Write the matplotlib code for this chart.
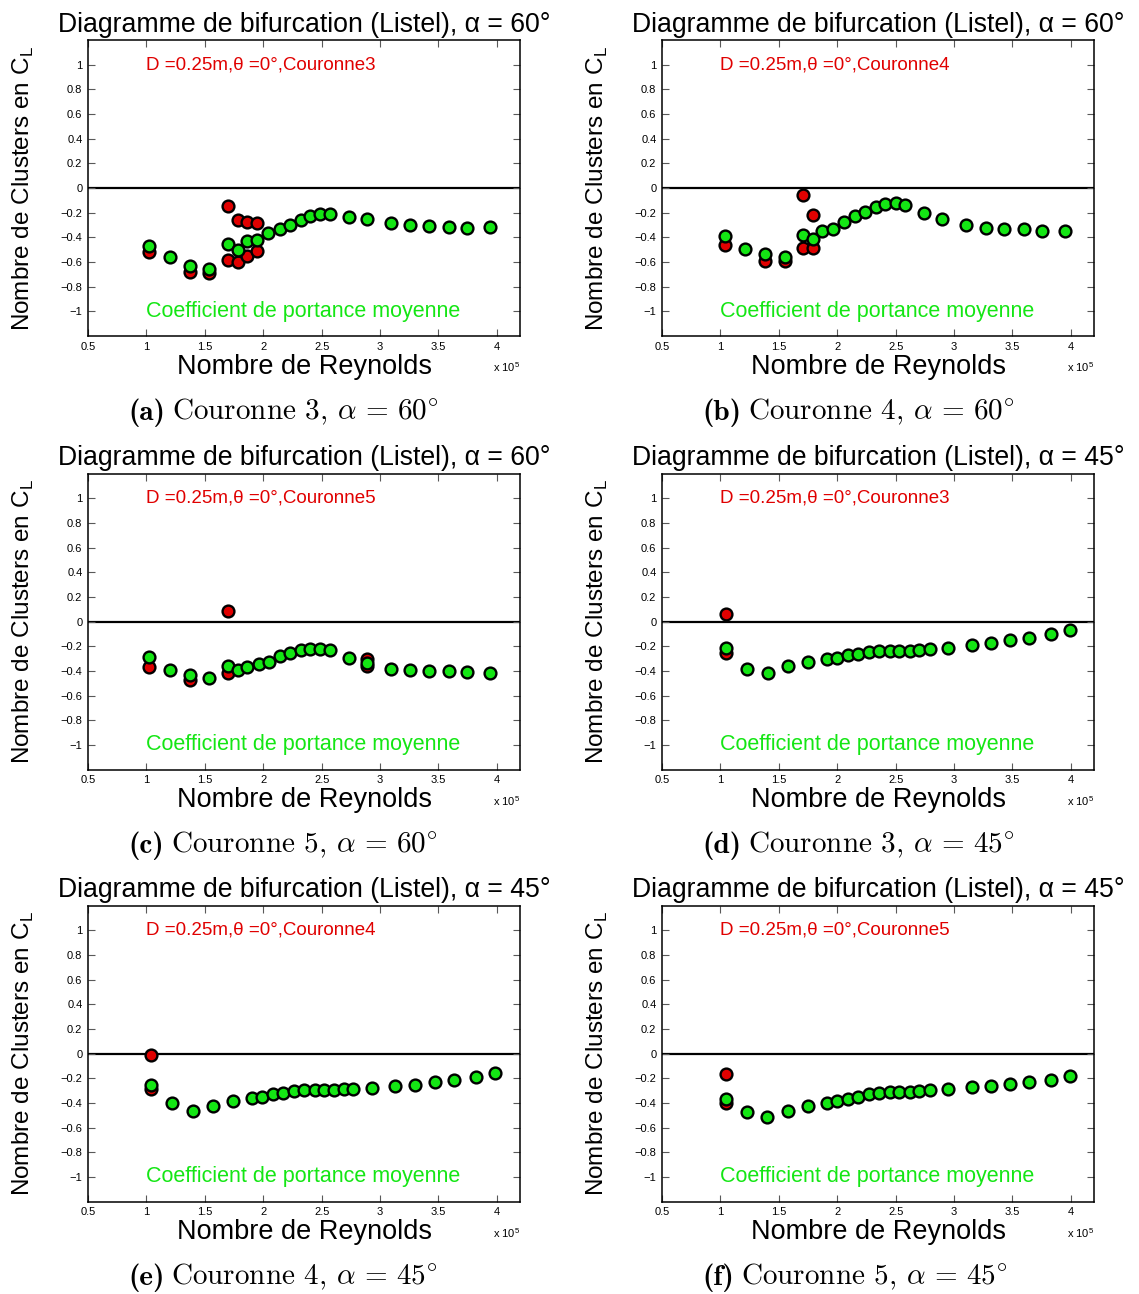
import matplotlib.pyplot as plt
from matplotlib.ticker import FuncFormatter

plt.rcParams['font.family'] = ['Liberation Sans', 'DejaVu Sans']
plt.rcParams['mathtext.fontset'] = 'cm'

# Reynolds number (x 1e5) and CL cluster values
# (a) Couronne 3, alpha = 60
re_green_a = [1.02, 1.20, 1.37, 1.54, 1.70, 1.78, 1.86, 1.95, 2.04, 2.14, 2.23, 2.32,
              2.40, 2.49, 2.57, 2.73, 2.89, 3.09, 3.26, 3.42, 3.59, 3.74, 3.94]
cl_green_a = [-0.47, -0.556, -0.63, -0.653, -0.45, -0.50, -0.433, -0.42, -0.363, -0.33, -0.296, -0.26,
              -0.225, -0.214, -0.211, -0.233, -0.252, -0.284, -0.296, -0.306, -0.312, -0.322, -0.317]
re_red_a = [1.02, 1.37, 1.54, 1.70, 1.78, 1.86, 1.95, 1.70, 1.78, 1.86, 1.95]
cl_red_a = [-0.52, -0.68, -0.69, -0.144, -0.255, -0.279, -0.285, -0.585, -0.60, -0.553, -0.512]

# (b) Couronne 4, alpha = 60
re_green_b = [1.04, 1.21, 1.38, 1.55, 1.71, 1.79, 1.87, 1.96, 2.06, 2.15, 2.24, 2.33,
              2.41, 2.50, 2.58, 2.74, 2.90, 3.10, 3.27, 3.43, 3.60, 3.75, 3.95]
cl_green_b = [-0.385, -0.496, -0.534, -0.556, -0.38, -0.412, -0.352, -0.333, -0.279, -0.228, -0.193, -0.152,
              -0.128, -0.125, -0.138, -0.206, -0.252, -0.30, -0.32, -0.33, -0.333, -0.344, -0.344]
re_red_b = [1.04, 1.38, 1.55, 1.71, 1.79, 1.71, 1.79]
cl_red_b = [-0.458, -0.588, -0.591, -0.054, -0.217, -0.485, -0.488]

# (c) Couronne 5, alpha = 60
re_green_c = [1.02, 1.20, 1.37, 1.54, 1.70, 1.78, 1.86, 1.96, 2.05, 2.14, 2.23, 2.32,
              2.40, 2.49, 2.57, 2.73, 2.89, 3.09, 3.26, 3.42, 3.59, 3.74, 3.94]
cl_green_c = [-0.287, -0.392, -0.432, -0.457, -0.362, -0.392, -0.37, -0.346, -0.324, -0.28, -0.255, -0.228,
              -0.22, -0.219, -0.228, -0.293, -0.335, -0.382, -0.39, -0.40, -0.40, -0.41, -0.42]
re_red_c = [1.02, 1.37, 1.70, 1.70, 2.89, 2.89]
cl_red_c = [-0.365, -0.475, 0.089, -0.42, -0.30, -0.36]

# (d) Couronne 3, alpha = 45
re_green_d = [1.05, 1.23, 1.41, 1.58, 1.75, 1.91, 2.00, 2.09, 2.18, 2.27, 2.36, 2.45,
              2.53, 2.62, 2.70, 2.79, 2.95, 3.15, 3.32, 3.48, 3.64, 3.83, 3.99]
cl_green_d = [-0.211, -0.384, -0.414, -0.362, -0.324, -0.302, -0.293, -0.272, -0.259, -0.243, -0.238, -0.238,
              -0.238, -0.235, -0.23, -0.224, -0.213, -0.192, -0.173, -0.152, -0.13, -0.10, -0.071]
re_red_d = [1.05, 1.05]
cl_red_d = [0.062, -0.255]

# (e) Couronne 4, alpha = 45
re_green_e = [1.04, 1.22, 1.40, 1.57, 1.74, 1.90, 1.99, 2.08, 2.17, 2.26, 2.35, 2.44,
              2.52, 2.61, 2.69, 2.77, 2.93, 3.13, 3.30, 3.47, 3.63, 3.82, 3.98]
cl_green_e = [-0.254, -0.40, -0.466, -0.423, -0.382, -0.357, -0.349, -0.327, -0.316, -0.30, -0.297, -0.293,
              -0.297, -0.293, -0.29, -0.288, -0.282, -0.263, -0.252, -0.23, -0.217, -0.188, -0.16]
re_red_e = [1.04, 1.04]
cl_red_e = [-0.013, -0.29]

# (f) Couronne 5, alpha = 45
re_green_f = [1.05, 1.23, 1.40, 1.58, 1.75, 1.91, 2.00, 2.09, 2.18, 2.27, 2.36, 2.45,
              2.53, 2.62, 2.70, 2.79, 2.95, 3.15, 3.32, 3.48, 3.64, 3.83, 3.99]
cl_green_f = [-0.365, -0.473, -0.514, -0.466, -0.425, -0.398, -0.387, -0.365, -0.35, -0.331, -0.32, -0.314,
              -0.311, -0.309, -0.30, -0.297, -0.288, -0.272, -0.266, -0.245, -0.23, -0.21, -0.181]
re_red_f = [1.05, 1.05]
cl_red_f = [-0.166, -0.398]

titles = ['Diagramme de bifurcation (Listel), \u03b1 = 60\u00b0'] * 3 + \
         ['Diagramme de bifurcation (Listel), \u03b1 = 45\u00b0'] * 3
notes = ['D =0.25m,\u03b8 =0\u00b0,Couronne3', 'D =0.25m,\u03b8 =0\u00b0,Couronne4',
         'D =0.25m,\u03b8 =0\u00b0,Couronne5', 'D =0.25m,\u03b8 =0\u00b0,Couronne3',
         'D =0.25m,\u03b8 =0\u00b0,Couronne4', 'D =0.25m,\u03b8 =0\u00b0,Couronne5']
cap_tags = ['(a)', '(b)', '(c)', '(d)', '(e)', '(f)']
cap_texts = [r'Couronne 3, $\alpha\,=\,60^{\circ}$', r'Couronne 4, $\alpha\,=\,60^{\circ}$',
             r'Couronne 5, $\alpha\,=\,60^{\circ}$', r'Couronne 3, $\alpha\,=\,45^{\circ}$',
             r'Couronne 4, $\alpha\,=\,45^{\circ}$', r'Couronne 5, $\alpha\,=\,45^{\circ}$']
x_ticks = [0.5, 1, 1.5, 2, 2.5, 3, 3.5, 4]
y_ticks = [-1, -0.8, -0.6, -0.4, -0.2, 0, 0.2, 0.4, 0.6, 0.8, 1]

panels = [(re_red_a, cl_red_a, re_green_a, cl_green_a),
          (re_red_b, cl_red_b, re_green_b, cl_green_b),
          (re_red_c, cl_red_c, re_green_c, cl_green_c),
          (re_red_d, cl_red_d, re_green_d, cl_green_d),
          (re_red_e, cl_red_e, re_green_e, cl_green_e),
          (re_red_f, cl_red_f, re_green_f, cl_green_f)]

RED = '#e00000'
GREEN = '#14e614'

fig = plt.figure(figsize=(11.39, 12.94), dpi=100)
lefts = [88 / 1139, 662 / 1139]
bottoms = [0.7403, 0.4053, 0.0714]
cap_x = [0.1124, 0.6163]
cap_y = [0.6754, 0.3408, 0.0070]


def tick_fmt(v, pos):
    s = '%g' % (round(v, 2) + 0.0)
    return s.replace('-', '\u2212')


for i, (rx, ry, gx, gy) in enumerate(panels):
    row, col = divmod(i, 2)
    ax = fig.add_axes([lefts[col], bottoms[row], 0.3795, 0.2287])
    ax.axhline(0, color='k', lw=1.6, zorder=1)
    ax.plot(rx, ry, 'o', color=RED, mec='k', ms=8.5, mew=1.7, zorder=2)
    ax.plot(gx, gy, 'o', color=GREEN, mec='k', ms=8.5, mew=1.7, zorder=3)
    ax.set_xlim(0.5, 4.2)
    ax.set_ylim(-1.2, 1.2)
    ax.set_xticks(x_ticks)
    ax.set_yticks(y_ticks)
    ax.xaxis.set_major_formatter(FuncFormatter(tick_fmt))
    ax.yaxis.set_major_formatter(FuncFormatter(tick_fmt))
    ax.tick_params(direction='in', top=True, right=True, length=5, width=0.8,
                   color='0.35', labelsize=8, pad=4)
    for s in ax.spines.values():
        s.set_linewidth(1.1)
    ax.set_title(titles[i], fontsize=19.2, pad=6)
    ax.set_xlabel('Nombre de Reynolds', fontsize=19.5)
    ax.xaxis.set_label_coords(0.5, -0.06)
    ax.xaxis.label.set_va('top')
    ax.set_ylabel(r'Nombre de Clusters en C$_\mathregular{L}$', fontsize=17.5)
    ax.yaxis.set_label_coords(-0.12, 0.5)
    ax.text(1.0, -0.105, r'x 10$^\mathregular{5}$', transform=ax.transAxes,
            ha='right', va='center', fontsize=8)
    ax.text(1.0, 1.0, notes[i], color=RED, fontsize=13.5, va='center')
    ax.text(1.0, -1.0, 'Coefficient de portance moyenne', color=GREEN,
            fontsize=15.5, va='center')
    t1 = fig.text(cap_x[col], cap_y[row], cap_tags[i], family='cmb10',
                  fontsize=21, va='baseline')
    ax.annotate(cap_texts[i], xy=(1, 0), xycoords=t1, xytext=(5, 0),
                textcoords='offset points', family='cmr10', fontsize=21,
                va='bottom', annotation_clip=False)

fig.savefig('out.png', dpi=100)
